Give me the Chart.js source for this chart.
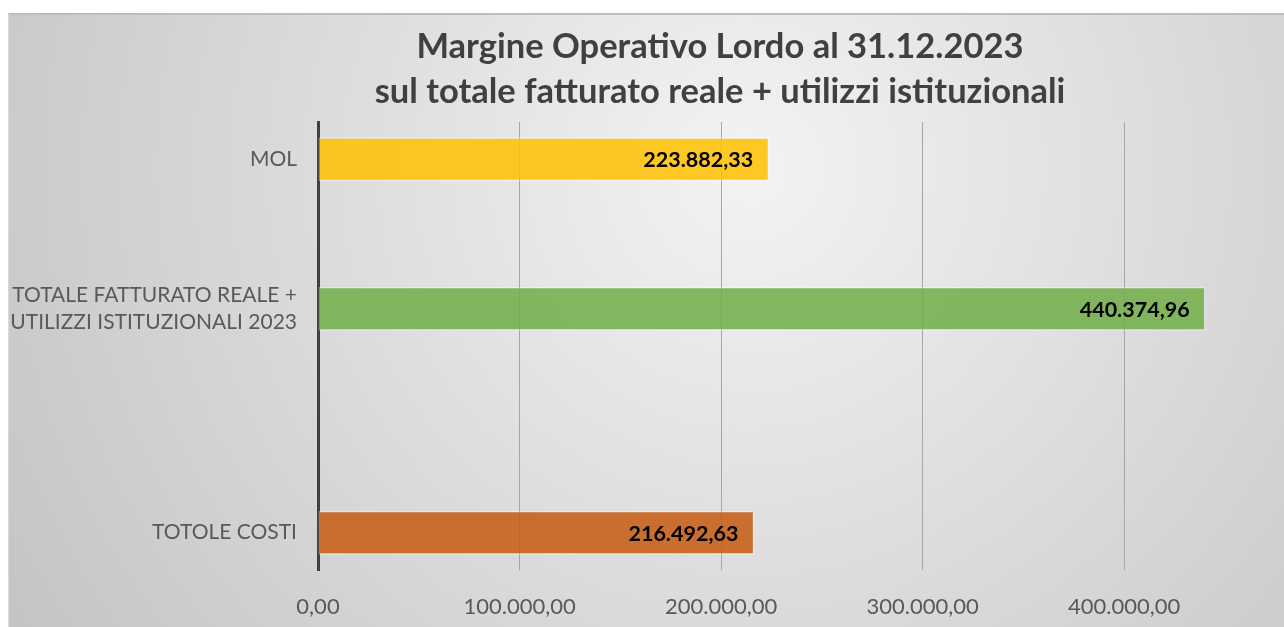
<!DOCTYPE html>
<html lang="it">
<head>
  <meta charset="UTF-8">
  <title>Margine Operativo Lordo</title>
  <script src="https://cdn.jsdelivr.net/npm/chart.js"></script>
  <style>
    body {
      margin: 0;
      background: #ffffff;
    }

    .box {
      position: absolute;
      left: 8px;
      top: 13px;
      width: 1276px;
      height: 614px;
      box-sizing: border-box;
      border-top: 2px solid #bdbdbd;
      border-left: 1px solid #dadada;
      background: radial-gradient(circle farthest-corner at 58% 25%, #f3f3f3 0%, #c4c4c4 100%);
    }
  </style>
</head>
<body>

  <div class="box">
    <canvas id="graficoMol"></canvas>
  </div>

<script>

  // dati (le voci vuote servono per la spaziatura delle barre)
  var categorie = ['MOL', '', ['TOTALE FATTURATO REALE +', 'UTILIZZI ISTITUZIONALI 2023'], '', '', 'TOTOLE COSTI'];
  var valori = [223882.33, null, 440374.96, null, null, 216492.63];
  var colori = ['rgba(255,192,0,0.85)', null, 'rgba(112,173,71,0.85)', null, null, 'rgba(197,90,17,0.85)'];
  var tickValori = [0, 100000, 200000, 300000, 400000];
  var titolo = ['Margine Operativo Lordo al 31.12.2023', 'sul totale fatturato reale + utilizzi istituzionali'];

  function formatoIt(n) {
    var parti = n.toFixed(2).split('.');
    var intero = parti[0].replace(/\B(?=(\d{3})+(?!\d))/g, '.');
    return intero + ',' + parti[1];
  }

  // titolo disegnato a mano (non e' centrato sul canvas)
  var titoloMol = {
    id: 'titoloMol',
    afterDraw(chart) {
      var ctx = chart.ctx;
      ctx.save();
      ctx.font = 'bold 34.5px Lato';
      ctx.fillStyle = '#404040';
      ctx.textAlign = 'center';
      ctx.textBaseline = 'middle';
      ctx.fillText(titolo[0], 711, 32);
      ctx.fillText(titolo[1], 711, 77);
      ctx.restore();
    }
  };

  // etichette dentro le barre
  var etichetteBarre = {
    id: 'etichetteBarre',
    afterDatasetsDraw(chart) {
      var ctx = chart.ctx;
      var meta = chart.getDatasetMeta(0);
      ctx.save();
      ctx.font = 'bold 21.5px Lato';
      ctx.fillStyle = '#000000';
      ctx.textAlign = 'right';
      ctx.textBaseline = 'middle';
      meta.data.forEach(function (barra, i) {
        if (valori[i] == null) return;
        ctx.fillText(formatoIt(valori[i]), barra.x - 16, barra.y + 1);
      });
      ctx.restore();
    }
  };

  const ctxMol = document.getElementById('graficoMol');

  const graficoMol = new Chart(ctxMol, {
    type: 'bar',
    data: {
      labels: categorie,
      datasets: [{
        label: 'MOL',
        data: valori,
        backgroundColor: colori,
        borderColor: 'rgba(255,255,255,0.35)',
        borderWidth: 1.5,
        borderSkipped: false,
        barPercentage: 0.59,
        categoryPercentage: 1
      }]
    },
    options: {
      indexAxis: 'y',
      responsive: true,
      maintainAspectRatio: false,
      animation: false,
      layout: {
        padding: { left: 0, right: 59, top: 107, bottom: 0 }
      },
      plugins: {
        legend: { display: false },
        tooltip: { enabled: false },
        title: { display: false }
      },
      scales: {
        x: {
          min: 0,
          max: 450000,
          afterBuildTicks: function (scale) {
            scale.ticks = tickValori.map(function (v) { return { value: v }; });
          },
          afterFit: function (scale) {
            scale.height = 57;
          },
          grid: {
            color: function (c) { return c.tick && c.tick.value === 0 ? 'rgba(0,0,0,0)' : '#a6a6a6'; },
            lineWidth: 1,
            drawTicks: false
          },
          border: { display: false },
          ticks: {
            padding: 24,
            color: '#595959',
            font: { family: 'Lato', size: 22 },
            callback: function (v) { return formatoIt(v); }
          }
        },
        y: {
          afterFit: function (scale) {
            scale.width = 309;
          },
          grid: { display: false, drawTicks: false },
          border: { display: true, color: '#404040', width: 3 },
          ticks: {
            padding: 21,
            autoSkip: false,
            color: '#595959',
            font: { family: 'Lato', size: 21, lineHeight: 1.3 }
          }
        }
      }
    },
    plugins: [etichetteBarre, titoloMol]
  });

</script>
</body>
</html>
